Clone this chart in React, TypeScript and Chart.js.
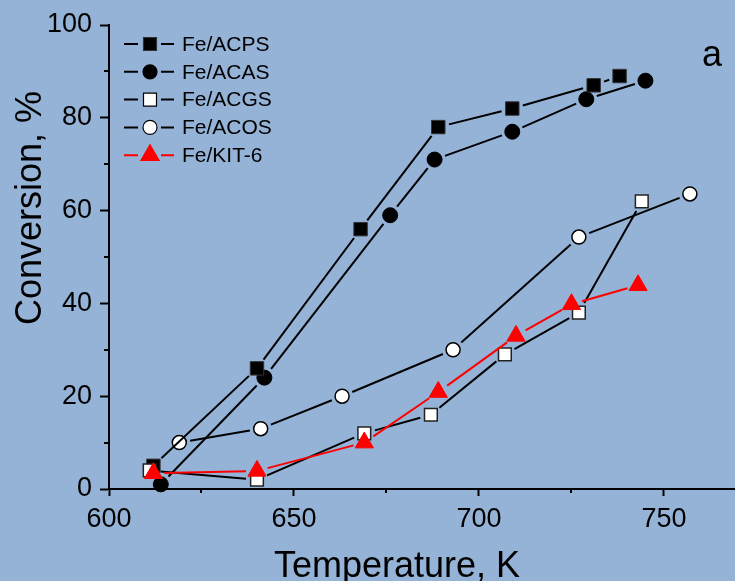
import React, { useEffect, useRef } from 'react';
import { Chart, registerables } from 'chart.js';

Chart.register(...registerables);

// ---- data (temperature in K, conversion in %) ----
const acpsT = [612, 640, 668, 689, 709, 731, 738];
const acpsC = [5, 26, 56, 78, 82, 87, 89];
const acasT = [614, 642, 676, 688, 709, 729, 745];
const acasC = [1, 24, 59, 71, 77, 84, 88];
const acgsT = [611, 640, 669, 687, 707, 727, 744];
const acgsC = [4, 2, 12, 16, 29, 38, 62];
const acosT = [619, 641, 663, 693, 727, 757];
const acosC = [10, 13, 20, 30, 54.3, 63.6];
const kitT = [612, 640, 669, 689, 710, 725, 743];
const kitC = [3.4, 3.9, 10, 20.9, 33, 39.8, 43.9];

const seriesLabels = ['Fe/ACPS', 'Fe/ACAS', 'Fe/ACGS', 'Fe/ACOS', 'Fe/KIT-6'];

const xMajorTicks = [600, 650, 700, 750];
const xMinorTicks = [625, 675, 725];
const yMajorTicks = [0, 20, 40, 60, 80, 100];
const yMinorTicks = [10, 30, 50, 70, 90];

const X_MIN = 600;
const X_MAX = 769.2;
const Y_MIN = 0;
const Y_MAX = 100;

const xTitle = 'Temperature, K';
const yTitle = 'Conversion, %';
const panelLabel = 'a';

const BG = '#95b3d7';
const FONT = 'Arial, "Liberation Sans", sans-serif';
const GAP = 11;

const pts = (t: number[], c: number[]) => t.map((x, i) => ({ x, y: c[i] }));

// dash pattern that leaves a gap near each marker (Origin-style line gaps)
const gapDash = (c: any) => {
  const dx = c.p1.x - c.p0.x;
  const dy = c.p1.y - c.p0.y;
  const L = Math.sqrt(dx * dx + dy * dy);
  const d = Math.max(0, L - 2 * GAP);
  return [0, GAP, d, GAP + 1000];
};

type Marker = { shape: 'rect' | 'circle' | 'triangle'; fill: string; stroke: string; line: string };
const markers: Marker[] = [
  { shape: 'rect', fill: '#000', stroke: '#333', line: '#000' },
  { shape: 'circle', fill: '#000', stroke: '#000', line: '#000' },
  { shape: 'rect', fill: '#fff', stroke: '#000', line: '#000' },
  { shape: 'circle', fill: '#fff', stroke: '#000', line: '#000' },
  { shape: 'triangle', fill: '#ff0000', stroke: '#ff0000', line: '#ff0000' },
];

function drawMarker(ctx: CanvasRenderingContext2D, m: Marker, x: number, y: number) {
  ctx.save();
  ctx.fillStyle = m.fill;
  ctx.strokeStyle = m.stroke;
  ctx.lineWidth = 1.2;
  ctx.beginPath();
  if (m.shape === 'rect') {
    ctx.rect(x - 6.5, y - 6.5, 13, 13);
  } else if (m.shape === 'circle') {
    ctx.arc(x, y, 7, 0, Math.PI * 2);
  } else {
    const r = 10.5;
    ctx.moveTo(x, y - r);
    ctx.lineTo(x + r * Math.sin(Math.PI * 2 / 3), y - r * Math.cos(Math.PI * 2 / 3));
    ctx.lineTo(x + r * Math.sin(Math.PI * 4 / 3), y - r * Math.cos(Math.PI * 4 / 3));
    ctx.closePath();
  }
  ctx.fill();
  ctx.stroke();
  ctx.restore();
}

const decorPlugin = {
  id: 'decor',
  beforeDraw(chart: any) {
    const { ctx, width, height } = chart;
    ctx.save();
    ctx.fillStyle = BG;
    ctx.fillRect(0, 0, width, height);
    ctx.restore();
  },
  afterDraw(chart: any) {
    const { ctx, chartArea, scales } = chart;
    const xs = scales.x;
    const ys = scales.y;
    ctx.save();
    // minor ticks
    ctx.strokeStyle = '#000';
    ctx.lineWidth = 2;
    ctx.setLineDash([]);
    ctx.beginPath();
    xMinorTicks.forEach((v) => {
      const px = Math.round(xs.getPixelForValue(v));
      ctx.moveTo(px, chartArea.bottom);
      ctx.lineTo(px, chartArea.bottom + 4);
    });
    yMinorTicks.forEach((v) => {
      const py = Math.round(ys.getPixelForValue(v));
      ctx.moveTo(chartArea.left, py);
      ctx.lineTo(chartArea.left - 5, py);
    });
    ctx.stroke();

    // axis titles
    ctx.fillStyle = '#000';
    ctx.font = `36px ${FONT}`;
    ctx.textAlign = 'center';
    ctx.textBaseline = 'alphabetic';
    ctx.fillText(xTitle, chartArea.left + 288, chartArea.bottom + 88);
    ctx.save();
    ctx.translate(41, chartArea.top + 183);
    ctx.rotate(-Math.PI / 2);
    ctx.fillText(yTitle, 0, 0);
    ctx.restore();

    // panel label
    ctx.textBaseline = 'middle';
    ctx.fillText(panelLabel, chartArea.left + 603, chartArea.top + 31);

    // legend
    const lx0 = chartArea.left + 15;
    const lxm = chartArea.left + 41;
    const lx1 = chartArea.left + 65;
    seriesLabels.forEach((lab, i) => {
      const m = markers[i];
      const y = chartArea.top + 19 + i * 27.8;
      ctx.strokeStyle = m.line;
      ctx.lineWidth = 2;
      ctx.beginPath();
      ctx.moveTo(lx0, y);
      ctx.lineTo(lxm - 12, y);
      ctx.moveTo(lxm + 11, y);
      ctx.lineTo(lx1, y);
      ctx.stroke();
      drawMarker(ctx, m, lxm, y);
      ctx.fillStyle = '#000';
      ctx.font = `21px ${FONT}`;
      ctx.textAlign = 'left';
      ctx.textBaseline = 'middle';
      ctx.fillText(lab, chartArea.left + 73, y + 1);
    });
    ctx.restore();
  },
};

export default function App() {
  const ref = useRef<HTMLCanvasElement | null>(null);

  useEffect(() => {
    if (!ref.current) return;
    const common = {
      borderWidth: 2,
      showLine: true,
      clip: false as any,
      segment: { borderDash: gapDash },
    };
    const chart = new Chart(ref.current, {
      type: 'scatter',
      data: {
        datasets: [
          {
            ...common,
            label: seriesLabels[0],
            data: pts(acpsT, acpsC),
            borderColor: '#000',
            pointStyle: 'rect',
            pointRadius: 9.5,
            pointBackgroundColor: '#000',
            pointBorderColor: '#333',
            pointBorderWidth: 1,
            order: 2,
          },
          {
            ...common,
            label: seriesLabels[1],
            data: pts(acasT, acasC),
            borderColor: '#000',
            pointStyle: 'circle',
            pointRadius: 7.5,
            pointBackgroundColor: '#000',
            pointBorderColor: '#000',
            pointBorderWidth: 1,
            order: 3,
          },
          {
            ...common,
            label: seriesLabels[2],
            data: pts(acgsT, acgsC),
            borderColor: '#000',
            pointStyle: 'rect',
            pointRadius: 9,
            pointBackgroundColor: '#fff',
            pointBorderColor: '#222',
            pointBorderWidth: 1.5,
            order: 1,
          },
          {
            ...common,
            label: seriesLabels[3],
            data: pts(acosT, acosC),
            borderColor: '#000',
            pointStyle: 'circle',
            pointRadius: 7,
            pointBackgroundColor: '#fff',
            pointBorderColor: '#000',
            pointBorderWidth: 1.5,
            order: 4,
          },
          {
            ...common,
            label: seriesLabels[4],
            data: pts(kitT, kitC),
            borderColor: '#ff0000',
            pointStyle: 'triangle',
            pointRadius: 10.5,
            pointBackgroundColor: '#ff0000',
            pointBorderColor: '#ff0000',
            pointBorderWidth: 1,
            order: 0,
          },
        ],
      },
      options: {
        responsive: false,
        animation: false,
        devicePixelRatio: 1,
        layout: { autoPadding: false, padding: { top: 25, right: 0, left: 0, bottom: 0 } },
        plugins: {
          legend: { display: false },
          tooltip: { enabled: false },
        },
        scales: {
          x: {
            type: 'linear',
            min: X_MIN,
            max: X_MAX,
            afterBuildTicks: (scale: any) => {
              scale.ticks = xMajorTicks.map((v) => ({ value: v }));
            },
            afterFit: (scale: any) => {
              scale.height = 92;
              scale.paddingLeft = 0;
              scale.paddingRight = 0;
            },
            border: { display: true, color: '#000', width: 2 },
            grid: { drawOnChartArea: false, drawTicks: true, tickLength: 7, tickColor: '#000', tickWidth: 2 },
            ticks: {
              color: '#000',
              font: { family: FONT, size: 27 },
              padding: 7,
              maxRotation: 0,
              autoSkip: false,
              callback: (v: any) => String(v),
            },
          },
          y: {
            type: 'linear',
            min: Y_MIN,
            max: Y_MAX,
            afterBuildTicks: (scale: any) => {
              scale.ticks = yMajorTicks.map((v) => ({ value: v }));
            },
            afterFit: (scale: any) => {
              scale.width = 109;
              scale.paddingTop = 0;
              scale.paddingBottom = 0;
            },
            border: { display: true, color: '#000', width: 2 },
            grid: { drawOnChartArea: false, drawTicks: true, tickLength: 9, tickColor: '#000', tickWidth: 2 },
            ticks: {
              color: '#000',
              font: { family: FONT, size: 27 },
              padding: 8,
              autoSkip: false,
              callback: (v: any) => String(v),
            },
          },
        },
      } as any,
      plugins: [decorPlugin],
    });
    return () => chart.destroy();
  }, []);

  return (
    <div style={{ position: 'fixed', left: 0, top: 0, width: 735, height: 581, background: BG }}>
      <canvas ref={ref} width={735} height={581} style={{ display: 'block' }} />
    </div>
  );
}
